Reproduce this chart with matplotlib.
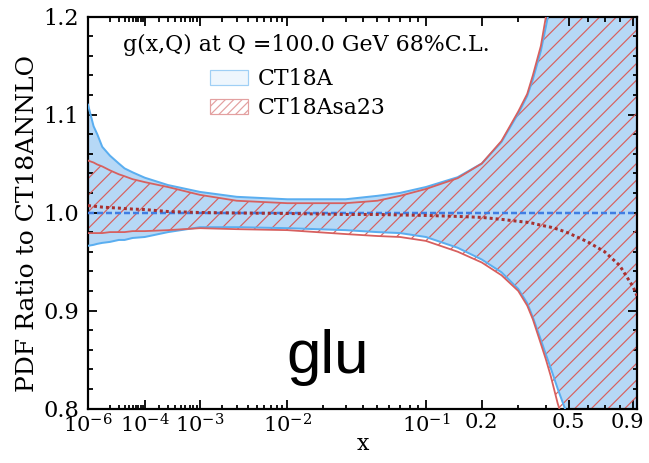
import numpy as np
import matplotlib
matplotlib.use('Agg')
import matplotlib.pyplot as plt
import matplotlib.transforms as mtransforms
from matplotlib.patches import Patch

# momentum fraction grid
x = [1e-6, 2e-6, 3e-6, 5e-6, 1e-5, 2e-5, 3e-5, 5e-5, 1e-4, 3e-4, 1e-3, 3e-3, 1e-2, 3e-2,
     0.05, 0.07, 0.1, 0.15, 0.2, 0.25, 0.3, 0.33, 0.35, 0.38, 0.4, 0.42, 0.45, 0.5,
     0.6, 0.7, 0.8, 0.9, 0.93]

# CT18A band (ratio to CT18ANNLO)
a_up = [1.110, 1.088, 1.080, 1.067, 1.058, 1.050, 1.045, 1.041, 1.0355, 1.028, 1.021, 1.016, 1.0135, 1.0135,
        1.017, 1.020, 1.026, 1.036, 1.050, 1.072, 1.101, 1.119, 1.136, 1.165, 1.190, 1.215, 1.30, 1.45,
        1.70, 2.00, 2.30, 2.60, 2.70]
a_lo = [0.966, 0.967, 0.968, 0.969, 0.970, 0.972, 0.972, 0.974, 0.975, 0.980, 0.985, 0.985, 0.984, 0.982,
        0.980, 0.979, 0.975, 0.964, 0.952, 0.939, 0.922, 0.9075, 0.893, 0.870, 0.855, 0.841, 0.820, 0.790,
        0.700, 0.600, 0.500, 0.400, 0.350]
a_cen = [1.0] * len(x)

# CT18Asa23 band
s_up = [1.053, 1.051, 1.049, 1.047, 1.043, 1.039, 1.037, 1.034, 1.031, 1.026, 1.018, 1.012, 1.0095, 1.0095,
        1.012, 1.017, 1.024, 1.035, 1.050, 1.073, 1.103, 1.121, 1.140, 1.170, 1.200, 1.225, 1.31, 1.46,
        1.72, 2.02, 2.32, 2.62, 2.72]
s_lo = [0.979, 0.979, 0.979, 0.979, 0.980, 0.980, 0.980, 0.981, 0.981, 0.982, 0.984, 0.983, 0.982, 0.978,
        0.976, 0.975, 0.971, 0.960, 0.949, 0.936, 0.920, 0.905, 0.891, 0.866, 0.850, 0.833, 0.805, 0.770,
        0.680, 0.580, 0.480, 0.380, 0.330]
s_cen = [1.007, 1.0065, 1.006, 1.0055, 1.005, 1.0045, 1.004, 1.0035, 1.003, 1.001, 1.000, 0.9995, 0.999, 0.998,
         0.998, 0.9975, 0.997, 0.996, 0.995, 0.993, 0.991, 0.990, 0.989, 0.987, 0.986, 0.985, 0.983, 0.979,
         0.970, 0.960, 0.946, 0.924, 0.915]

xticks = [1e-6, 1e-4, 1e-3, 1e-2, 1e-1, 0.2, 0.5, 0.9]
xticklabels = [r'$10^{-6}$', r'$10^{-4}$', r'$10^{-3}$', r'$10^{-2}$', r'$10^{-1}$', '0.2', '0.5', '0.9']

DPI = 100
P = 72 / DPI  # pixels -> points

plt.rcParams['font.family'] = ['DejaVu Serif']
plt.rcParams['mathtext.fontset'] = 'dejavuserif'
plt.rcParams['hatch.linewidth'] = 1.2 * P

blue_fill = '#b6d8f6'
blue_edge = '#5aaef0'
blue_cen = '#3f7ee3'
red_edge = '#d7605f'
red_cen = '#a8302f'

fig = plt.figure(figsize=(6.49, 4.63), dpi=DPI)
ax = fig.add_axes([88 / 649, 1 - 408.5 / 463, 549 / 649, 392 / 463])


def fwd(v):
    return np.power(np.clip(v, 1e-12, None), 0.2)


def inv(v):
    return np.power(np.clip(v, 0, None), 5)


ax.set_xscale('function', functions=(fwd, inv))

ax.fill_between(x, a_lo, a_up, facecolor=blue_fill, edgecolor='none', zorder=1)
ax.fill_between(x, s_lo, s_up, facecolor='none', edgecolor=red_edge, hatch='//', linewidth=0, zorder=2)
ax.plot(x, a_up, color=blue_edge, lw=2 * P, zorder=3)
ax.plot(x, a_lo, color=blue_edge, lw=2 * P, zorder=3)
ax.plot(x, s_up, color=red_edge, lw=1.8 * P, zorder=4)
ax.plot(x, s_lo, color=red_edge, lw=1.8 * P, zorder=4)
ax.plot(x, a_cen, color=blue_cen, lw=2.5 * P, ls=(0, (2.4, 1.2)), zorder=5)
ax.plot(x, s_cen, color=red_cen, lw=3 * P, ls=(0, (1, 1)), zorder=6)

ax.set_xlim(1e-6, 0.93)
ax.set_ylim(0.8, 1.2)

ax.set_xticks(xticks)
ax.set_xticklabels(xticklabels)
major_r = [round(t, 10) for t in xticks]
minor = []
for d in [1e-5, 1e-4, 1e-3, 1e-2, 1e-1]:
    for k in range(1, 10):
        v = k * d
        if v < 0.93 and round(v, 10) not in major_r:
            minor.append(v)
ax.set_xticks(minor, minor=True)
ax.set_yticks([0.8, 0.9, 1.0, 1.1, 1.2])
ax.set_yticks(np.arange(0.8, 1.2001, 0.02), minor=True)
ax.set_yticklabels(['0.8', '0.9', '1.0', '1.1', '1.2'])

ax.tick_params(which='both', direction='in', top=True, right=True, width=1.8 * P, colors='black')
ax.tick_params(axis='y', labelsize=22.5 * P)
ax.tick_params(axis='x', labelsize=21 * P)
ax.tick_params(which='major', length=9 * P)
ax.tick_params(axis='x', which='major', pad=5 * P)
ax.tick_params(axis='y', which='major', pad=9 * P)
ax.tick_params(which='minor', length=4.5 * P)
for sp in ax.spines.values():
    sp.set_linewidth(2.2 * P)

# nudge the last x label so it stays inside the figure
last = ax.get_xticklabels()[-1]
last.set_transform(last.get_transform() + mtransforms.ScaledTranslation(-6 / DPI, 0, fig.dpi_scale_trans))

ax.set_xlabel('x', fontsize=22 * P, labelpad=-4 * P)
fig.text(28 / 649, 1 - 223 / 463, 'PDF Ratio to CT18ANNLO', rotation=90, fontsize=25 * P,
         ha='center', va='center')

ax.text(0.064, 0.927, 'g(x,Q) at Q =100.0 GeV 68%C.L.', transform=ax.transAxes,
        fontsize=22 * P, ha='left', va='center')

handles = [Patch(facecolor='#eef6fd', edgecolor='#9fcff5', lw=1.2 * P),
           Patch(facecolor='white', edgecolor='#e3a0a0', hatch='////', lw=1.2 * P)]
ax.legend(handles, ['CT18A', 'CT18Asa23'], loc='upper left', bbox_to_anchor=(0.222, 0.868),
          frameon=False, fontsize=22 * P, handlelength=1.75, handleheight=0.68,
          handletextpad=0.42, labelspacing=0.32, borderpad=0, borderaxespad=0)

ax.text(0.436, 0.09, 'glu', transform=ax.transAxes, fontsize=62 * P, family='Liberation Sans',
        ha='center', va='baseline')

fig.savefig('out.png', dpi=DPI)
